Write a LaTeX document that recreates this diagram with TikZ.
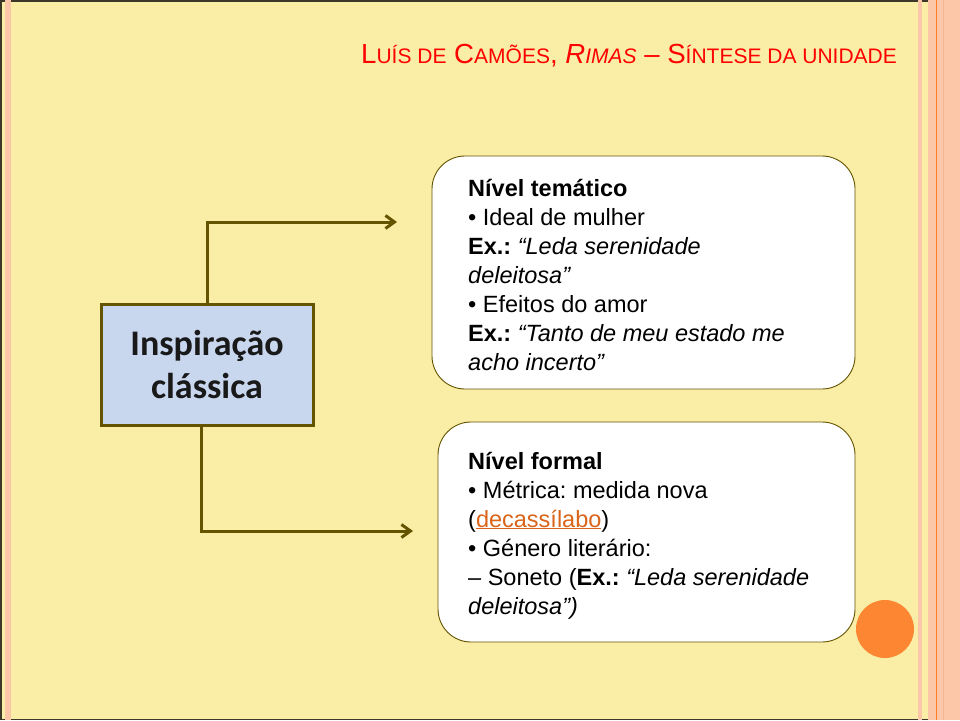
\documentclass[tikz,border=0pt]{standalone}
\usepackage{fontspec}
\setmainfont{Liberation Sans}
\newfontfamily\calib{Carlito}
\usetikzlibrary{arrows.meta}
\frenchspacing
\definecolor{bgyellow}{RGB}{250,238,166}
\definecolor{pinkc}{RGB}{252,198,168}
\definecolor{pinkdark}{RGB}{244,180,150}
\definecolor{orangel}{RGB}{255,125,35}
\definecolor{olive}{RGB}{100,84,0}
\definecolor{darkl}{RGB}{60,55,40}
\definecolor{boxblue}{RGB}{200,214,238}
\definecolor{titlered}{RGB}{255,0,0}
\definecolor{linkc}{RGB}{218,100,26}
\definecolor{circorange}{RGB}{253,134,50}
\newcommand\tsc[1]{{\fontsize{21}{21}\selectfont #1}}
\begin{document}
\begin{tikzpicture}[x=1pt,y=-1pt,
  conn/.style={draw=olive, line width=3pt, -{Straight Barb[length=9pt,width=13pt]}},
  mainbox/.style={draw=olive, line width=3pt, fill=boxblue, minimum width=212pt, minimum height=121pt, inner sep=0pt},
  roundbox/.style={draw=olive, line width=0.9pt, fill=white, rounded corners=33pt, inner sep=0pt},
  bodytext/.style={font=\frenchspacing\fontsize{23.5}{29}\selectfont, align=left, inner sep=0pt, anchor=base west}
]
\useasboundingbox (0,0) rectangle (960,720);
% background
\fill[bgyellow] (0,0) rectangle (960,720);
\draw[darkl, line width=1.5pt] (0.75,0.75) -- (928,0.75);
\draw[darkl, line width=1.5pt] (0.75,719.25) -- (928,719.25);
\draw[darkl, line width=1.5pt] (0.75,0) -- (0.75,720);
\fill[pinkc] (5,0) rectangle (11,720);
\fill[pinkc] (918,0) rectangle (922,720);
\fill[pinkc] (928,0) rectangle (960,720);
\draw[orangel, line width=1.3pt] (936.5,0) -- (936.5,720);
\draw[pinkdark, line width=0.8pt] (943,0) -- (943,720);
% title
\node[anchor=base west, inner sep=0pt, text=titlered, font=\fontsize{27.6}{27.6}\selectfont] (title) at (361,63)
  {L\tsc{UÍS DE} C\tsc{AMÕES}, \textit{R\tsc{IMAS}} – S\tsc{ÍNTESE DA UNIDADE}};
% main box
\node[mainbox, align=center, font=\calib\bfseries\fontsize{36}{43}\selectfont, text={rgb,255:red,25;green,25;blue,25}] (insp) at (207,364.5) {Inspiração\\clássica};
% rounded boxes
\node[roundbox, minimum width=423pt, minimum height=233pt] (tem) at (643.5,272.5) {};
\node[roundbox, minimum width=417pt, minimum height=220pt] (form) at (646.5,532) {};
% multi-line nodes: base = last line's baseline
\node[bodytext] (temtxt) at (468,370) {\textbf{Nível temático}\\
• Ideal de mulher\\
\textbf{Ex.:} \textit{“Leda serenidade}\\
\textit{deleitosa”}\\
• Efeitos do amor\\
\textbf{Ex.:} \textit{“Tanto de meu estado me}\\
\textit{acho incerto”}};
\node[bodytext] (formtxt) at (468,614) {\textbf{Nível formal}\\
• Métrica: medida nova\\
(\textcolor{linkc}{\underline{decassílabo}})\\
• Género literário:\\
– Soneto (\textbf{Ex.:} \textit{“Leda serenidade}\\
\textit{deleitosa”)}};
% circle
\fill[circorange] (885,629) circle (29pt);
% connectors
\coordinate (t1) at (397,222);
\coordinate (t2) at (413,531);
\draw[conn] (insp.north) |- (t1);
\draw[conn] ([xshift=-6pt]insp.south) |- (t2);
\end{tikzpicture}
\end{document}
